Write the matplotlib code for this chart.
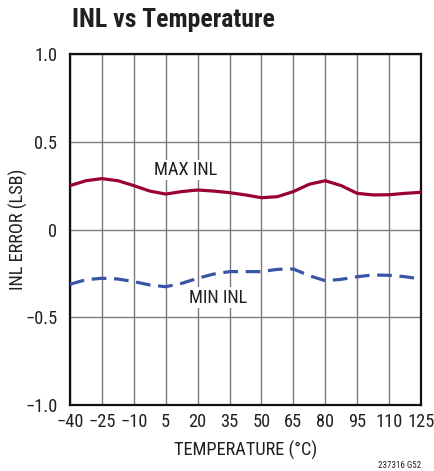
import matplotlib
matplotlib.use("Agg")
import matplotlib.pyplot as plt

# Temperature sweep (°C) and measured INL extremes (LSB)
temperature = [-40, -32.5, -25, -17.5, -10, -2.5, 5, 12.5, 20, 27.5, 35, 42.5,
               50, 57.5, 65, 72.5, 80, 87.5, 95, 102.5, 110, 117.5, 125]
max_inl = [0.250, 0.278, 0.290, 0.278, 0.250, 0.219, 0.202, 0.216, 0.225, 0.219,
           0.210, 0.197, 0.181, 0.187, 0.216, 0.258, 0.278, 0.250, 0.206, 0.197,
           0.198, 0.206, 0.212]
min_inl = [-0.312, -0.286, -0.278, -0.282, -0.297, -0.316, -0.326, -0.307, -0.278,
           -0.254, -0.240, -0.240, -0.240, -0.227, -0.225, -0.263, -0.292, -0.284,
           -0.269, -0.259, -0.261, -0.269, -0.282]

x_ticks = [-40, -25, -10, 5, 20, 35, 50, 65, 80, 95, 110, 125]
x_tick_labels = ["\u221240", "\u221225", "\u221210", "5", "20", "35", "50", "65",
                 "80", "95", "110", "125"]
y_ticks = [-1.0, -0.5, 0.0, 0.5, 1.0]
y_tick_labels = ["\u22121.0", "\u22120.5", "0", "0.5", "1.0"]

FONT = ["Roboto Condensed", "Archivo Narrow", "PT Sans Narrow", "DejaVu Sans"]
TEXT = "#231f20"
RED = "#9a0036"
BLUE = "#3a55a6"

plt.rcParams["font.family"] = FONT

fig = plt.figure(figsize=(4.35, 4.71), dpi=100)
ax = fig.add_axes([70 / 435, 66 / 471, 351 / 435, 351 / 471])

ax.plot(temperature, max_inl, color=RED, lw=2.3, solid_capstyle="round",
        solid_joinstyle="round", zorder=3)
ln, = ax.plot(temperature, min_inl, color=BLUE, lw=2.3, zorder=3)
ln.set_dashes((4.6, 2.4))

ax.set_xlim(-40, 125)
ax.set_ylim(-1.0, 1.0)
ax.set_xticks(x_ticks)
ax.set_xticklabels(x_tick_labels)
ax.set_yticks(y_ticks)
ax.set_yticklabels(y_tick_labels)
ax.tick_params(length=0, labelsize=13.2, colors=TEXT)
ax.tick_params(axis="x", pad=6)
ax.tick_params(axis="y", pad=9)

ax.grid(True, color="#7a7a7a", lw=1.0)
ax.set_axisbelow(True)
for s in ax.spines.values():
    s.set_color("#111111")
    s.set_linewidth(1.6)

ax.text(14.5, 0.339, "MAX INL", fontsize=13.2, color=TEXT, ha="center", va="center",
        bbox=dict(facecolor="white", edgecolor="none", pad=1.0), zorder=4)
ax.text(29.6, -0.39, "MIN INL", fontsize=13.2, color=TEXT, ha="center", va="center",
        bbox=dict(facecolor="white", edgecolor="none", pad=1.0), zorder=4)

fig.text(72 / 435, 1 - 26.7 / 471, "INL vs Temperature", fontsize=18.5,
         fontweight="bold", color=TEXT, ha="left", va="baseline")
fig.text(245.5 / 435, 1 - 450.7 / 471, "TEMPERATURE (\u00b0C)", fontsize=13.2,
         color=TEXT, ha="center", va="center")
fig.text(18 / 435, 1 - 229.5 / 471, "INL ERROR (LSB)", fontsize=13.2,
         color=TEXT, ha="center", va="center", rotation=90)
fig.text(421 / 435, 1 - 466 / 471, "237316 G52", fontsize=6.5, color=TEXT,
         ha="right", va="center")

fig.savefig("out.png", dpi=100, facecolor="white")
